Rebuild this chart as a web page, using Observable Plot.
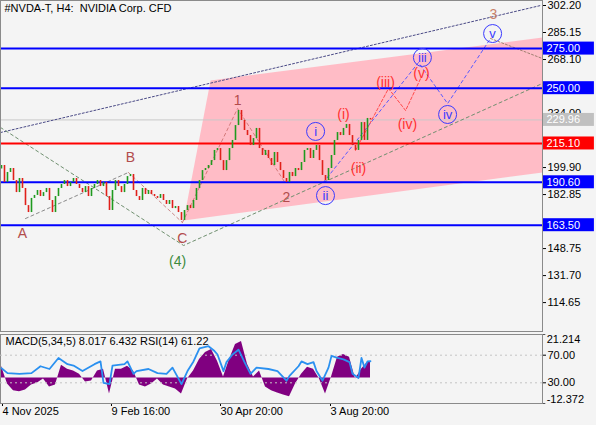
<!DOCTYPE html>
<html><head><meta charset="utf-8">
<script src="https://cdn.jsdelivr.net/npm/d3@7"></script>
<script src="https://cdn.jsdelivr.net/npm/@observablehq/plot@0.6"></script>
<style>
html,body{margin:0;padding:0;background:#f4f4f4;}
#wrap{position:relative;width:596px;height:425px;font-family:"Liberation Sans",Arial,sans-serif;}
#wrap svg{position:absolute;left:0;overflow:visible;}
</style></head><body><div id="wrap"></div>
<script>
// ---------- DATA ----------
const title = "#NVDA-T, H4: \u00a0NVIDIA Corp. CFD";
const indicatorTitle = "MACD(5,34,5) 8.017 6.432 RSI(14) 61.22";
const firstOpen = 199.0;
const closes = [201.2,190.5,196.8,199.3,191.7,184.1,193.0,186.7,175.9,171.5,
180.4,182.3,185.4,181.6,184.1,186.7,179.1,171.5,181.6,186.7,
189.2,191.7,187.9,190.5,193.0,189.2,186.7,184.1,187.9,181.6,
186.7,189.2,191.7,187.9,190.5,181.6,172.8,185.4,191.7,187.9,
184.1,189.2,194.2,195.5,185.4,181.6,179.1,186.7,182.9,185.4,
182.9,181.6,180.4,182.9,179.1,176.6,179.1,174.0,175.3,171.5,
166.5,172.8,175.9,174.0,179.1,186.7,191.7,198.0,199.3,201.2,
204.3,210.7,211.9,204.3,198.0,204.3,211.9,217.0,226.4,235.9,
229.6,223.3,220.1,213.8,218.2,224.6,211.9,207.5,210.7,205.6,
201.2,209.4,203.1,198.0,193.0,190.5,196.8,194.2,199.3,198.0,
203.1,210.7,211.9,205.6,210.7,213.8,204.3,194.9,191.7,199.3,
207.5,217.0,222.0,220.1,224.6,227.1,220.1,213.8,210.7,217.0,
228.3,217.0,230.9,229.96];
const lastPrice = 229.96;
// visible price-scale ticks (251.05, 216.95 and 165.80 are hidden under the level boxes)
const priceTicks = [302.20,285.15,268.10,234.00,199.90,182.85,148.75,131.70,114.65];
const blueLevels = [275.00,250.00,190.60,163.50];
const redLevels = [215.10];
const dateTickBars = [0, 36.33, 72.67, 109.33];
const dateLabels = ["4 Nov 2025","9 Feb 16:00","30 Apr 20:00","3 Aug 20:00"];

// MACD histogram (bar index, value)
const macdBars = [0,2,4,6,8,10,12,14,16,18,20,22,24,26,28,30,32,34,36,38,40,42,44,46,48,50,52,54,56,58,60,62,64,66,68,70,72,74,76,78,80,82,84,86,88,90,92,94,96,98,100,102,104,106,108,110,112,114,116,118,120,122,123];
const macdVals = [5.8,-2.9,-6.2,-6.7,-5.8,-3.4,-2.4,-0.5,-4.3,-3.4,6.2,4.3,3.4,1.9,-1.9,-1.4,3.4,4.3,-7.7,4.3,4.3,5.8,3.4,-3.4,-4.3,-2.9,-0.5,-3.4,-4.3,-5.3,-7.7,-0.5,3.4,9.1,12.5,13.9,8.2,0.5,9.1,16.3,17.8,6.7,0.5,3.4,-4.3,-6.2,-7.2,-8.2,-9.1,-2.9,1.9,5.3,4.3,-0.5,-7.7,0.5,10.1,11.5,10.1,-0.5,4.3,7.7,8.017];
const macdMax = 21.214, macdMin = -12.372;
// RSI(14)
const rsiBars = [0,2,6,10,13,16,19,22,24,27,31,33,34,36,37,41,42,44,45,49,52,55,57,60,62,64,66,69,71,72,74,75,77,79,81,83,85,89,92,95,96,99,100,102,104,105,107,109,110,112,114,116,117,119,120,121,122,123];
const rsiVals = [51,44,43,44,54,50,66,57,55,47,57,61,30,28,55,57,61,43,47,50,44,43,52,28,47,61,80,83,76,71,47,60,71,78,60,43,52,50,47,33,40,54,61,57,60,47,33,52,69,66,64,60,43,37,66,52,61,61.22];
const rsiLevels = [70, 30];

// pink channel (bar, price)
const channel = [[60.7,166.5],[69.7,254.9],[180.33,282.0],[180.33,196.8]];
// wave connector lines (bar, price)
const topTrend = [[-0.33,222.0],[179.7,302.2]];
const wave4Line = [[-0.33,225.2],[60.7,150.7],[180.33,253.0]];
const abLine = [[8.0,167.7],[42.3,196.8]];
const bcLine = [[42.3,196.8],[60.3,165.2]];
const c12Line = [[60.3,165.2],[78.7,237.2],[94.7,189.8]];
const minuteLine = [[107.3,190.5],[139.0,266.2],[148.7,240.3],[163.0,281.4]];
const afterVLine = [[163.0,281.4],[180.33,268.7]];
const minuetteLine = [[118.0,210.7],[129.0,249.8],[134.7,235.9],[139.7,256.1]];
// wave labels
const primaryLabels = [["A",7,158.3],["B",43,206.2],["C",60.3,155.1],["1",78.7,242.2],["2",95,181.0]];
const label3 = [["3",164,296.5]];
const label4 = [["(4)",58.7,140.6]];
const minuetteLabels = [["(i)",114,233.4],["(ii)",119,199.3],["(iii)",128,253.6],["(iv)",135.3,227.1],["(v)",140,259.3]];
const minuteLabels = [["i",104.7,222.7],["ii",108,182.2],["iii",140.3,269.4],["iv",148.7,233.4],["v",163.7,284.5]];

// ---------- BUILD ----------
const X0 = -0.33, X1 = 180.33;
const pts = a => a.map(([bar, price]) => ({bar, price}));
const lbl = a => a.map(([t, bar, price]) => ({t, bar, price}));
const candles = closes.map((c, i) => ({bar: i, open: i ? closes[i-1] : firstOpen, close: c}));
const boxes = [
  ...blueLevels.map(v => ({v, c: "#0000ff"})),
  ...redLevels.map(v => ({v, c: "#ff0000"})),
  {v: lastPrice, c: "#c0c0c0"}
];
const font = {background: "transparent", fontFamily: "Liberation Sans, Arial, sans-serif", fontSize: "11px", color: "#000", overflow: "visible"};
const dashLine = (a, stroke, dash, w=1) => Plot.line(pts(a), {x: "bar", y: "price", stroke, strokeDasharray: dash, strokeWidth: w});

const main = Plot.plot({
  width: 596, height: 331, marginLeft: 0, marginRight: 54, marginTop: 0, marginBottom: 0,
  style: font,
  x: {domain: [X0, X1], axis: null},
  y: {domain: [96.4, 305.36], axis: null},
  marks: [
    Plot.line(pts(channel), {x: "bar", y: "price", fill: "#ffbcc6", stroke: "none"}),
    Plot.ruleY([lastPrice], {stroke: "#c8c8c8", strokeWidth: 1}),
    dashLine(topTrend, "#4a4a86", "2,2"),
    dashLine(wave4Line, "#6f8f6f", "3,3"),
    dashLine(abLine, "#8a8a8a", "3,3"),
    dashLine(bcLine, "#c98a8a", "3,3"),
    dashLine(c12Line, "#d47a7a", "3,3"),
    dashLine(minuteLine, "#5a5aff", "3,3"),
    dashLine(afterVLine, "#a08070", "2,2"),
    dashLine(minuetteLine, "#ff4a4a", "3,2"),
    Plot.ruleY(blueLevels, {stroke: "#0000ff", strokeWidth: 2}),
    Plot.ruleY(redLevels, {stroke: "#ff0000", strokeWidth: 2}),
    Plot.ruleX(candles.filter(d => d.close >= d.open), {x: "bar", y1: "open", y2: "close", stroke: "#1f9a1f", strokeWidth: 1.6}),
    Plot.ruleX(candles.filter(d => d.close < d.open), {x: "bar", y1: "open", y2: "close", stroke: "#e0201a", strokeWidth: 1.6}),
    Plot.text(lbl(primaryLabels), {x: "bar", y: "price", text: "t", fill: "#b24c4c", fontSize: 14}),
    Plot.text(lbl(label3), {x: "bar", y: "price", text: "t", fill: "#c8806a", fontSize: 14}),
    Plot.text(lbl(label4), {x: "bar", y: "price", text: "t", fill: "#3d8b3d", fontSize: 14}),
    Plot.text(lbl(minuetteLabels), {x: "bar", y: "price", text: "t", fill: "#ff3030", fontSize: 14}),
    Plot.dot(lbl(minuteLabels), {x: "bar", y: "price", r: 9, stroke: "#3a3aff", fill: "none", strokeWidth: 1}),
    Plot.text(lbl(minuteLabels), {x: "bar", y: "price", text: "t", fill: "#3a3aff", fontSize: 13}),
    Plot.axisY({anchor: "right", ticks: priceTicks, tickFormat: d => d.toFixed(2), tickSize: 3, tickPadding: 2, label: null}),
    Plot.rect(boxes, {x1: X1 + 0.3, x2: X1 + 17.3, y1: d => d.v - 4.1, y2: d => d.v + 4.1, fill: "c"}),
    Plot.text(boxes, {x: X1 + 1.3, y: "v", text: d => d.v.toFixed(2), textAnchor: "start", fill: "#ffffff"}),
    Plot.frame({stroke: "#8a8a8a"}),
    Plot.text([title], {frameAnchor: "top-left", dx: 4, dy: 4, textAnchor: "start", lineAnchor: "top", fill: "#000"})
  ]
});
main.style.top = "0px";
document.getElementById("wrap").appendChild(main);

const macdData = macdBars.map((b, i) => ({bar: b, v: macdVals[i]}));
const rsiData = rsiBars.map((b, i) => ({bar: b, v: rsiVals[i]}));
const labelByBar = new Map(dateTickBars.map((b, i) => [b, dateLabels[i]]));

const macdPlot = Plot.plot({
  width: 596, height: 92, marginLeft: 0, marginRight: 54, marginTop: 3, marginBottom: 20,
  style: font,
  x: {domain: [X0, X1], axis: null},
  y: {domain: [macdMin, macdMax], axis: null},
  marks: [
    Plot.areaY(macdData, {x: "bar", y: "v", fill: "#800080"}),
    Plot.ruleY([macdMax, macdMin], {x1: X1, x2: X1 + 1.1, stroke: "#555"}),
    Plot.text([macdMax], {x: X1 + 1.4, y: d => d, text: d => d.toFixed(3), textAnchor: "start", dy: 5}),
    Plot.text([macdMin], {x: X1 + 1.4, y: d => d, text: d => d.toFixed(3), textAnchor: "start", dy: -4}),
    Plot.axisX({ticks: dateTickBars, tickFormat: d => labelByBar.get(d), textAnchor: "start", dx: 1, tickSize: 3, tickPadding: 1, label: null}),
    Plot.frame({stroke: "#8a8a8a"}),
    Plot.text([indicatorTitle], {frameAnchor: "top-left", dx: 5, dy: 3, textAnchor: "start", lineAnchor: "top", fill: "#000"})
  ]
});
macdPlot.style.top = "331px";
document.getElementById("wrap").appendChild(macdPlot);

const rsiPlot = Plot.plot({
  width: 596, height: 92, marginLeft: 0, marginRight: 54, marginTop: 3, marginBottom: 20,
  style: font,
  x: {domain: [X0, X1], axis: null},
  y: {domain: [0, 100], axis: null},
  marks: [
    Plot.ruleY(rsiLevels, {stroke: "#c4c4c4", strokeDasharray: "2,3"}),
    Plot.line(rsiData, {x: "bar", y: "v", stroke: "#2a90f0", strokeWidth: 1.8}),
    Plot.axisY({anchor: "right", ticks: rsiLevels, tickFormat: d => d.toFixed(2), tickSize: 3, tickPadding: 2, label: null})
  ]
});
rsiPlot.style.top = "331px";
document.getElementById("wrap").appendChild(rsiPlot);
</script></body></html>
